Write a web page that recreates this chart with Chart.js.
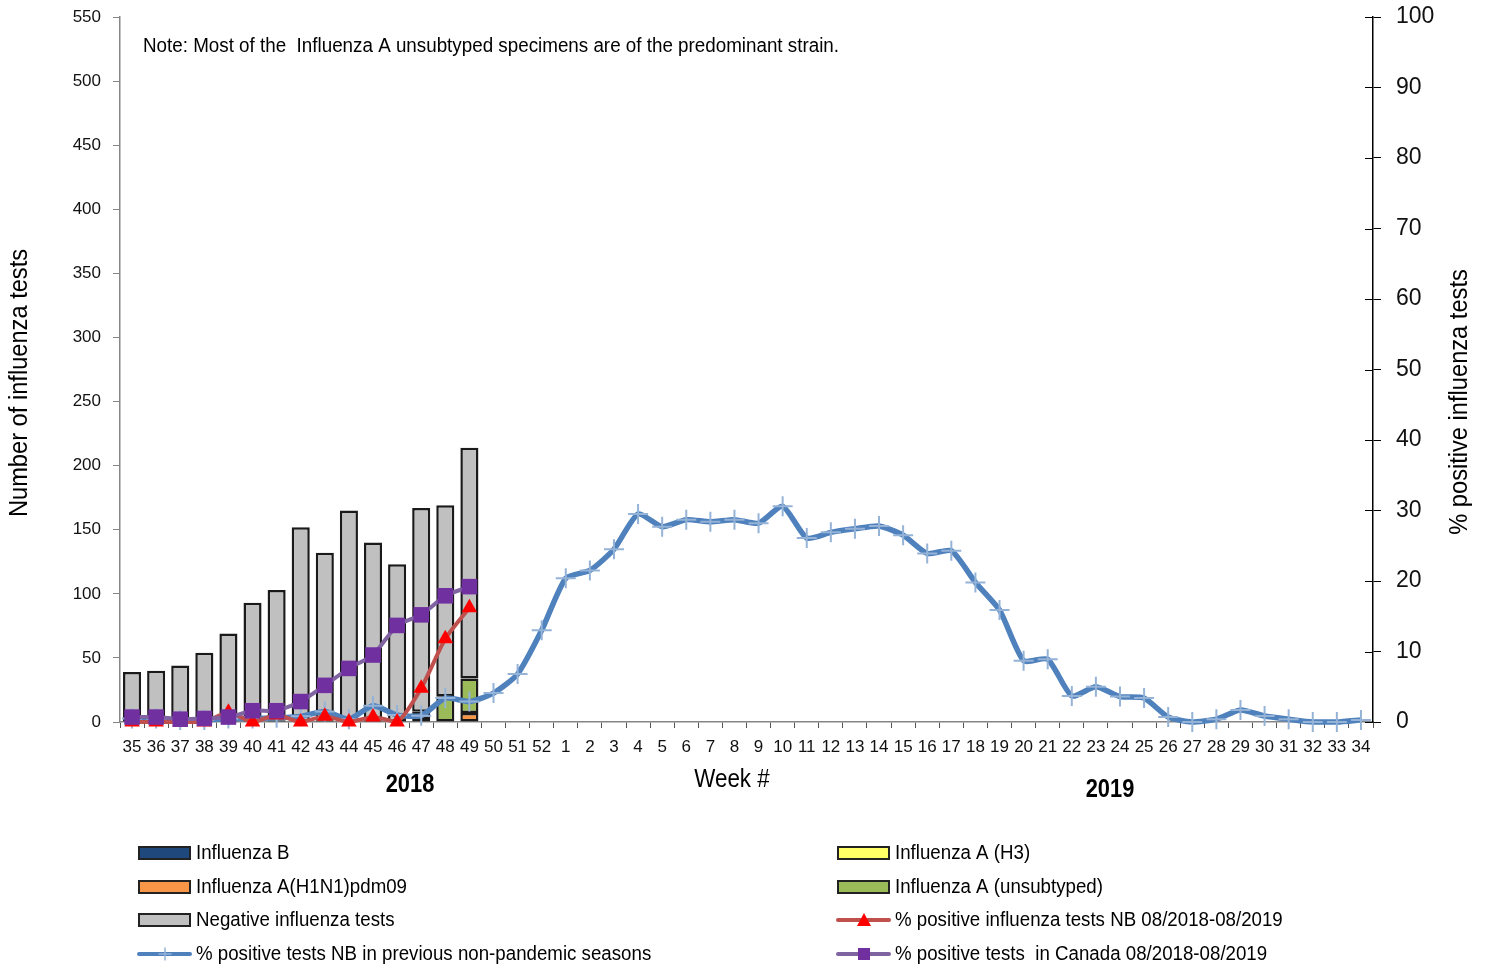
<!DOCTYPE html>
<html>
<head>
<meta charset="utf-8">
<script src="https://cdn.jsdelivr.net/npm/chart.js@4"></script>
<style>
  body { margin: 0; background: #fff; }
  #wrap { width: 1488px; height: 968px; }
</style>
</head>
<body>
<div id="wrap"><canvas id="fluChart" width="1488" height="968"></canvas></div>
<script>
// ===== DATA =====
const weeks = [35, 36, 37, 38, 39, 40, 41, 42, 43, 44, 45, 46, 47, 48, 49, 50, 51, 52,
  1, 2, 3, 4, 5, 6, 7, 8, 9, 10, 11, 12, 13, 14, 15, 16, 17, 18, 19, 20, 21, 22,
  23, 24, 25, 26, 27, 28, 29, 30, 31, 32, 33, 34].map(String);

// counts, weeks 35-49 of 2018
const fluB       = [null, null, null, null, null, null, null, null, null, null, null, null, null, null, null];
const fluH1N1    = [null, null, null, null, null, null, null, null, null, null, null, null, 4, null, 7];
const fluH3      = [null, null, null, null, null, null, null, null, null, null, null, null, null, null, null];
const fluUnsub   = [null, null, null, null, 1, null, 1, null, 1, null, 1, null, 4, 20, 27];
const negTests   = [39, 40, 44, 54, 68, 93, 102, 152, 131, 165, 139, 123, 159, 149, 180];

// percent positive
const pctNB      = [0, 0, 0, 0, 1.4, 0, 1.0, 0, 0.8, 0, 0.7, 0, 4.8, 11.8, 16.2];
const pctCanada  = [0.7, 0.7, 0.4, 0.5, 0.7, 1.6, 1.6, 2.9, 5.2, 7.6, 9.5, 13.7, 15.2, 17.9, 19.2];
const pctPrev    = [0.5, 0.5, 0.3, 0.3, 0.5, 0.5, 0.6, 0.8, 1.5, 0.4, 2.3, 1.0, 0.9, 3.4, 2.9, 4.1, 6.8, 13.0,
  20.4, 21.5, 24.5, 29.5, 27.7, 28.7, 28.4, 28.7, 28.2, 30.6, 26.1, 26.9, 27.4, 27.8, 26.5, 23.9,
  24.3, 19.8, 15.9, 8.7, 8.9, 3.7, 5.0, 3.6, 3.4, 0.7, 0, 0.4, 1.7, 0.85, 0.4, 0, 0, 0.3];

const leftTicks = { min: 0, max: 550, step: 50 };
const rightTicks = { min: 0, max: 100, step: 10 };

// ===== STYLE =====
const FONT = "'Liberation Sans Narrow', 'Liberation Sans', Arial, sans-serif";
const C = {
  fluB: "#1F497D",
  h1n1: "#F79646",
  h3: "#FFFF66",
  unsub: "#9BBB59",
  neg: "#C0C0C0",
  nbLine: "#C0504D",
  nbMark: "#FF0000",
  caLine: "#8064A2",
  caMark: "#7030A0",
  prevLine: "#4F81BD",
  prevMark: "#95B3D7",
};

function barSet(label, data, color) {
  return {
    type: "bar", label, data, backgroundColor: color,
    borderColor: "#1a1a1a", borderWidth: 2.5, borderSkipped: false,
    yAxisID: "y", order: 10, stack: "tests",
    barPercentage: 0.75, categoryPercentage: 1,
  };
}

// text squeezed sideways, the source uses a narrow face
function squeezed(ctx, txt, x, y, font, align, sx, rot) {
  ctx.save();
  ctx.translate(x, y);
  if (rot) ctx.rotate(rot);
  ctx.scale(sx, 1);
  ctx.font = font;
  ctx.textAlign = align;
  ctx.textBaseline = "middle";
  ctx.fillStyle = "#000";
  ctx.fillText(txt, 0, 0);
  ctx.restore();
}

// ===== EXTRA DRAWING (notes, axis titles, legend) =====
const legendItems = [
  { label: "Influenza B", kind: "bar", fill: C.fluB, x: 139, y: 853 },
  { label: "Influenza A (H3)", kind: "bar", fill: C.h3, x: 838, y: 853 },
  { label: "Influenza A(H1N1)pdm09", kind: "bar", fill: C.h1n1, x: 139, y: 887 },
  { label: "Influenza A (unsubtyped)", kind: "bar", fill: C.unsub, x: 838, y: 887 },
  { label: "Negative influenza tests", kind: "bar", fill: C.neg, x: 139, y: 920 },
  { label: "% positive influenza tests NB 08/2018-08/2019", kind: "line", line: C.nbLine, mark: "tri", x: 838, y: 920 },
  { label: "% positive tests NB in previous non-pandemic seasons", kind: "line", line: C.prevLine, mark: "cross", x: 139, y: 954 },
  { label: "% positive tests  in Canada 08/2018-08/2019", kind: "line", line: C.caLine, mark: "sq", x: 838, y: 954 },
];

const extras = {
  id: "extras",
  afterDraw(chart) {
    const ctx = chart.ctx;
    ctx.save();

    // inner half of the right axis ticks
    const y1 = chart.scales.y1;
    ctx.strokeStyle = "#000";
    ctx.lineWidth = 1;
    y1.ticks.forEach((t) => {
      const yy = Math.round(y1.getPixelForValue(t.value)) + 0.5;
      ctx.beginPath();
      ctx.moveTo(y1.left - 8, yy);
      ctx.lineTo(y1.left, yy);
      ctx.stroke();
    });

    squeezed(ctx, "Note: Most of the  Influenza A unsubtyped specimens are of the predominant strain.",
      143, 46, "20px " + FONT, "left", 0.94);
    squeezed(ctx, "Week #", 732, 780, "26px " + FONT, "center", 0.86);
    squeezed(ctx, "2018", 410, 785, "bold 26px " + FONT, "center", 0.84);
    squeezed(ctx, "2019", 1110, 790, "bold 26px " + FONT, "center", 0.84);
    squeezed(ctx, "Number of influenza tests", 20, 383, "25px " + FONT, "center", 0.946, -Math.PI / 2);
    squeezed(ctx, "% positive influenza tests", 1460, 402, "25px " + FONT, "center", 0.946, -Math.PI / 2);

    // legend
    legendItems.forEach((it) => {
      if (it.kind === "bar") {
        ctx.fillStyle = it.fill;
        ctx.fillRect(it.x, it.y - 6, 51, 12);
        ctx.strokeStyle = "#222";
        ctx.lineWidth = 2;
        ctx.strokeRect(it.x, it.y - 6, 51, 12);
      } else {
        ctx.strokeStyle = it.line;
        ctx.lineWidth = 4;
        ctx.lineCap = "round";
        ctx.beginPath();
        ctx.moveTo(it.x, it.y);
        ctx.lineTo(it.x + 51, it.y);
        ctx.stroke();
        const cx = it.x + 26;
        if (it.mark === "tri") {
          ctx.fillStyle = C.nbMark;
          ctx.beginPath();
          ctx.moveTo(cx, it.y - 7);
          ctx.lineTo(cx + 7, it.y + 6);
          ctx.lineTo(cx - 7, it.y + 6);
          ctx.closePath();
          ctx.fill();
        } else if (it.mark === "sq") {
          ctx.fillStyle = C.caMark;
          ctx.fillRect(cx - 6, it.y - 6, 12, 12);
        } else {
          ctx.strokeStyle = C.prevMark;
          ctx.lineWidth = 1.5;
          ctx.beginPath();
          ctx.moveTo(cx - 6, it.y);
          ctx.lineTo(cx + 6, it.y);
          ctx.moveTo(cx, it.y - 6);
          ctx.lineTo(cx, it.y + 6);
          ctx.stroke();
        }
      }
      squeezed(ctx, it.label, it.x + 57, it.y, "20px " + FONT, "left", 0.935);
    });

    ctx.restore();
  },
};

// ===== CHART =====
new Chart(document.getElementById("fluChart"), {
  data: {
    labels: weeks,
    datasets: [
      barSet("Influenza B", fluB, C.fluB),
      barSet("Influenza A(H1N1)pdm09", fluH1N1, C.h1n1),
      barSet("Influenza A (H3)", fluH3, C.h3),
      barSet("Influenza A (unsubtyped)", fluUnsub, C.unsub),
      barSet("Negative influenza tests", negTests, C.neg),
      {
        type: "line", label: "% positive tests NB in previous non-pandemic seasons",
        data: pctPrev, yAxisID: "y1", order: 3, clip: false,
        borderColor: C.prevLine, borderWidth: 5.5, tension: 0.2,
        pointStyle: "cross", pointRadius: 10, pointBorderWidth: 2,
        pointBorderColor: C.prevMark, pointBackgroundColor: C.prevMark,
      },
      {
        type: "line", label: "% positive influenza tests NB 08/2018-08/2019",
        data: pctNB, yAxisID: "y1", order: 2, clip: false,
        borderColor: C.nbLine, borderWidth: 4, tension: 0.2,
        pointStyle: "triangle", pointRadius: 9, pointBorderWidth: 0,
        pointBackgroundColor: C.nbMark, pointBorderColor: C.nbMark,
      },
      {
        type: "line", label: "% positive tests  in Canada 08/2018-08/2019",
        data: pctCanada, yAxisID: "y1", order: 1, clip: false,
        borderColor: C.caLine, borderWidth: 4, tension: 0.2,
        pointStyle: "rect", pointRadius: 11, pointBorderWidth: 0,
        pointBackgroundColor: C.caMark, pointBorderColor: C.caMark,
      },
    ],
  },
  options: {
    responsive: false,
    animation: false,
    devicePixelRatio: 1,
    layout: { padding: { top: 17, left: 0, right: 0, bottom: 0 } },
    plugins: { legend: { display: false }, tooltip: { enabled: false } },
    scales: {
      x: {
        stacked: true,
        afterFit: (s) => { s.height = 246; s.paddingLeft = 0; s.paddingRight = 0; },
        grid: { drawOnChartArea: false, tickLength: 6, color: "#555", offset: true },
        border: { color: "#868686", width: 1.5 },
        ticks: { color: "#111", font: { family: FONT, size: 17 }, padding: 9, maxRotation: 0, autoSkip: false },
      },
      y: {
        stacked: true,
        position: "left",
        min: leftTicks.min, max: leftTicks.max,
        afterFit: (s) => { s.width = 120; s.paddingTop = 0; s.paddingBottom = 0; },
        grid: { drawOnChartArea: false, tickLength: 7, color: "#868686" },
        border: { color: "#868686", width: 1.5 },
        ticks: { stepSize: leftTicks.step, color: "#111", font: { family: FONT, size: 17 }, padding: 12 },
      },
      y1: {
        stacked: false,
        position: "right",
        min: rightTicks.min, max: rightTicks.max,
        afterFit: (s) => { s.width = 115; s.paddingTop = 0; s.paddingBottom = 0; },
        grid: { drawOnChartArea: false, tickLength: 8, color: "#000" },
        border: { color: "#000", width: 1.5 },
        ticks: { stepSize: rightTicks.step, color: "#111", font: { family: FONT, size: 23 }, padding: 15 },
      },
    },
  },
  plugins: [extras],
});
</script>
</body>
</html>
